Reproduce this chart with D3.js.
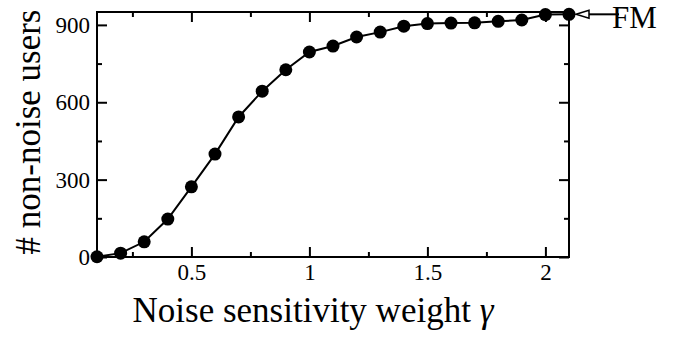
<!DOCTYPE html>
<html>
<head>
<meta charset="utf-8">
<script src="https://cdn.jsdelivr.net/npm/d3@7"></script>
<style>
  body { margin: 0; background: #fff; }
  text { font-family: "Liberation Serif", "Times New Roman", serif; fill: #000; }
</style>
</head>
<body>
<div id="chart"></div>
<script>
// values
const gammas = [0.1, 0.2, 0.3, 0.4, 0.5, 0.6, 0.7, 0.8, 0.9, 1.0, 1.1,
                1.2, 1.3, 1.4, 1.5, 1.6, 1.7, 1.8, 1.9, 2.0, 2.1];
const users = [1, 15, 59, 147, 272, 399, 543, 643, 726, 795, 818,
               853, 872, 895, 905, 907, 908, 914, 919, 940, 941];
const xMajor = [0.5, 1, 1.5, 2];
const xMinor = [0.25, 0.75, 1.25, 1.75];
const yMajor = [0, 300, 600, 900];
const yMinor = [150, 450, 750];

const margin = { top: 12, left: 97, right: 114, bottom: 81 },
  width = 683 - margin.left - margin.right,
  height = 338 - margin.top - margin.bottom;

const svg = d3.select("#chart").append("svg")
  .attr("width", 683)
  .attr("height", 338);

const g = svg.append("g")
  .attr("transform", "translate(" + margin.left + "," + margin.top + ")");

const x = d3.scaleLinear().domain([0.1, 2.1]).range([0, width]);
const y = d3.scaleLinear().domain([0, 950]).range([height, 0]);

// ticks point inward on all four sides
function axis(gen, vals, size, labels) {
  return gen.tickValues(vals).tickSizeInner(-size).tickSizeOuter(0)
    .tickFormat(labels ? d3.format("") : "");
}

function drawAxes() {
  const bottom = g.append("g").attr("transform", "translate(0," + height + ")");
  bottom.append("g").call(axis(d3.axisBottom(x), xMajor, 10, true));
  bottom.append("g").call(axis(d3.axisBottom(x), xMinor, 5, false));

  const top = g.append("g");
  top.append("g").call(axis(d3.axisTop(x), xMajor, 10, false));
  top.append("g").call(axis(d3.axisTop(x), xMinor, 5, false));

  const left = g.append("g");
  left.append("g").call(axis(d3.axisLeft(y), yMajor, 10, true));
  left.append("g").call(axis(d3.axisLeft(y), yMinor, 5, false));

  const right = g.append("g").attr("transform", "translate(" + width + ",0)");
  right.append("g").call(axis(d3.axisRight(y), yMajor, 10, false));
  right.append("g").call(axis(d3.axisRight(y), yMinor, 5, false));

  g.selectAll(".domain").remove();
  g.selectAll(".tick line").attr("stroke", "#000").attr("stroke-width", 2);
  g.selectAll(".tick text").style("font-size", "23px")
    .style("font-family", "'Liberation Serif', serif");
  bottom.selectAll(".tick text").attr("dy", "0.92em").attr("y", 2);
  left.selectAll(".tick text").attr("x", -7);

  g.append("rect")
    .attr("width", width).attr("height", height)
    .attr("fill", "none").attr("stroke", "#000").attr("stroke-width", 2);
}
drawAxes();

const data = gammas.map((gm, i) => ({ gamma: gm, n: users[i] }));

g.append("path")
  .datum(data)
  .attr("fill", "none")
  .attr("stroke", "#000")
  .attr("stroke-width", 2)
  .attr("d", d3.line().x(d => x(d.gamma)).y(d => y(d.n)));

g.selectAll(".pt")
  .data(data)
  .enter()
  .append("circle")
  .attr("class", "pt")
  .attr("cx", d => x(d.gamma))
  .attr("cy", d => y(d.n))
  .attr("r", 6.5)
  .attr("fill", "#000");

// FM annotation arrow pointing at the last point
const last = data[data.length - 1];
const ax = x(last.gamma) + 7, ay = y(last.n);
g.append("line")
  .attr("x1", ax + 12).attr("y1", ay)
  .attr("x2", ax + 43).attr("y2", ay)
  .attr("stroke", "#000").attr("stroke-width", 2);
g.append("path")
  .attr("d", "M" + ax + "," + ay + "L" + (ax + 13) + "," + (ay - 4) +
    "L" + (ax + 13) + "," + (ay + 4) + "Z")
  .attr("fill", "#fff").attr("stroke", "#000").attr("stroke-width", 1.5);
g.append("text")
  .attr("x", ax + 36).attr("y", ay + 14)
  .style("font-size", "31px")
  .text("FM");

// axis titles
const xt = svg.append("text")
  .attr("x", 313)
  .attr("y", 322)
  .attr("text-anchor", "middle")
  .style("font-size", "35px");
xt.append("tspan").text("Noise sensitivity weight ");
xt.append("tspan").style("font-style", "italic").text("γ");

svg.append("text")
  .attr("transform", "translate(40,132) rotate(-90)")
  .attr("text-anchor", "middle")
  .style("font-size", "35px")
  .text("# non-noise users");
</script>
</body>
</html>
